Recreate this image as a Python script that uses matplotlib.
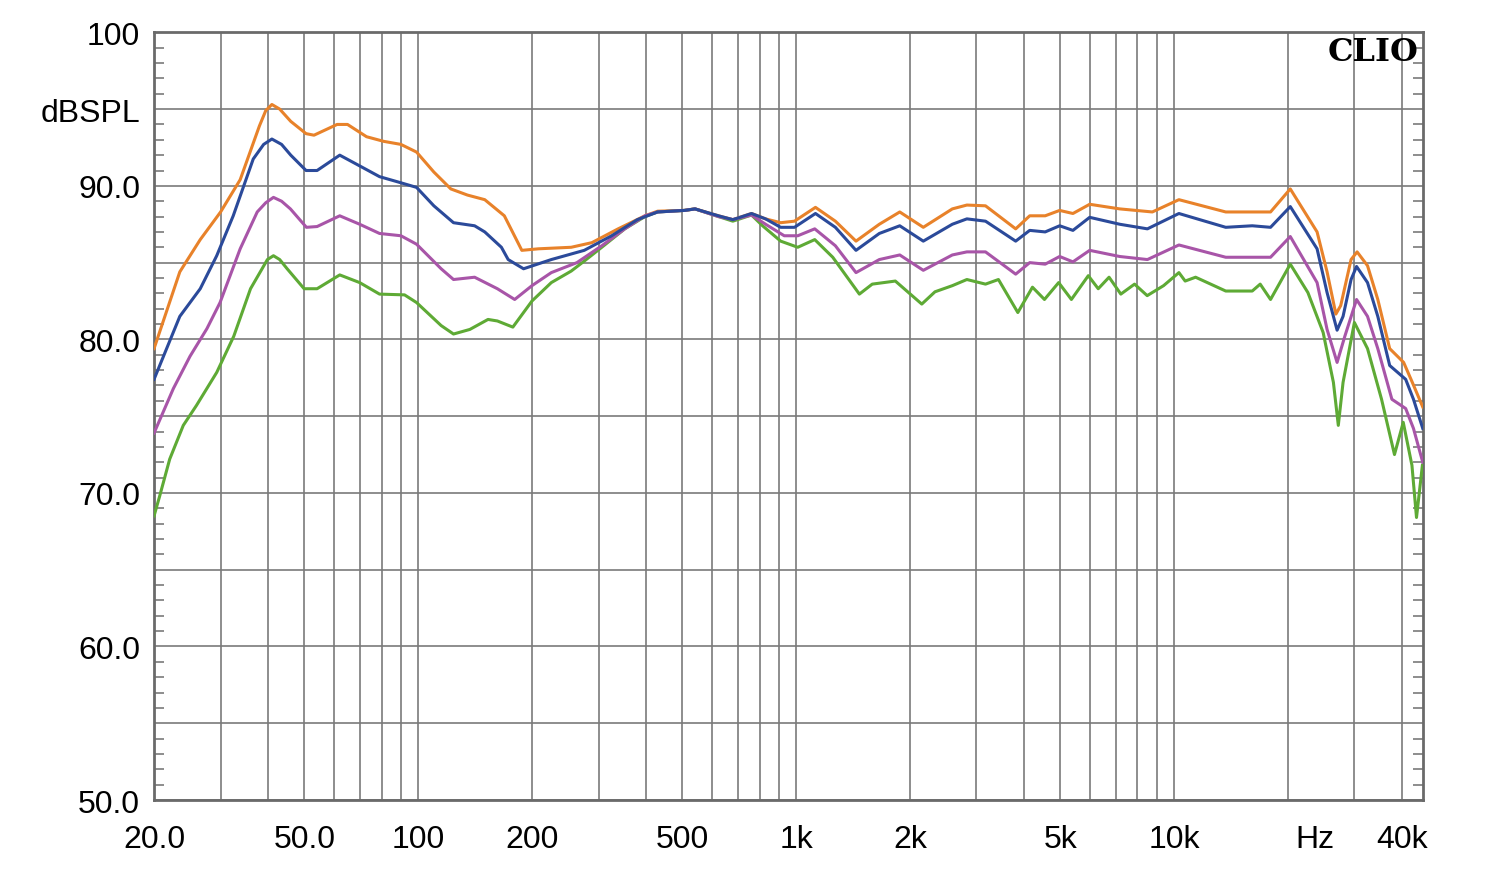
import matplotlib
matplotlib.use("Agg")
import matplotlib.pyplot as plt
import numpy as np

# ---- data ----
orange_f = [20, 23.4, 26.5, 30, 33.8, 38, 39.5, 41, 43, 46, 50.5, 53, 61, 65, 73, 81, 90, 99, 110, 122, 135, 150, 169, 188, 208,
            254, 288, 338, 398, 430, 506, 540, 623, 680, 762, 830, 910, 990, 1125, 1270, 1440, 1660, 1880, 2170, 2590,
            2830, 3170, 3810, 4150, 4560, 4980, 5400, 5980, 7180, 8760, 10300, 13700, 16100, 18000, 20300, 23900,
            25400, 26800, 27600, 29400, 30500, 32500, 34600, 37200, 40500, 42700, 45500]
orange_db = [79.4, 84.4, 86.5, 88.3, 90.4, 93.9, 94.9, 95.3, 95.0, 94.2, 93.4, 93.3, 94.0, 94.0, 93.2, 92.9, 92.7, 92.2, 90.9, 89.8,
             89.4, 89.1, 88.05, 85.8, 85.9, 86.0, 86.3, 87.2, 88.05, 88.35, 88.4, 88.5, 88.05, 87.8, 88.2, 87.85, 87.6,
             87.7, 88.6, 87.7, 86.4, 87.5, 88.3, 87.3, 88.5, 88.75, 88.7, 87.2, 88.05, 88.05, 88.4, 88.2, 88.8, 88.5,
             88.3, 89.1, 88.3, 88.3, 88.3, 89.8, 87.0, 84.4, 81.65, 82.2, 85.2, 85.7, 84.8, 82.6, 79.4, 78.5, 77.2, 75.6]

blue_f = [20, 23.4, 26.5, 29.3, 32.4, 36.6, 39, 41, 43.5, 46, 50.5, 54, 62, 70, 79, 90, 99, 110, 124, 141, 150, 166, 173, 190,
          225, 275, 325, 380, 430, 506, 540, 623, 680, 762, 830, 910, 990, 1125, 1270, 1440, 1660, 1880, 2170, 2590,
          2830, 3170, 3810, 4150, 4560, 4980, 5400, 5980, 7180, 8500, 10300, 13700, 16100, 18000, 20300, 23900,
          25400, 27000, 28000, 29400, 30400, 32500, 34600, 37200, 41000, 43000, 45500]
blue_db = [77.4, 81.5, 83.3, 85.45, 88.05, 91.75, 92.7, 93.05, 92.7, 92.0, 91.0, 91.0, 92.0, 91.3, 90.6, 90.2, 89.9, 88.7, 87.6,
           87.4, 87.0, 86.0, 85.2, 84.6, 85.2, 85.8, 86.75, 87.8, 88.3, 88.4, 88.5, 88.05, 87.8, 88.2, 87.85, 87.3,
           87.3, 88.2, 87.3, 85.8, 86.9, 87.4, 86.4, 87.5, 87.85, 87.7, 86.4, 87.1, 87.0, 87.4, 87.1, 87.95, 87.5,
           87.2, 88.2, 87.3, 87.4, 87.3, 88.65, 85.9, 83.05, 80.6, 81.5, 83.9, 84.75, 83.7, 81.5, 78.3, 77.4, 76.1, 74.2]

purple_f = [20, 22.5, 24.9, 27.6, 29.9, 33.8, 37.5, 39.5, 41.4, 43.5, 45.9, 50.6, 54, 62, 70, 79, 90, 99, 115, 124, 141, 162, 180,
            200, 225, 263, 306, 352, 398, 430, 506, 540, 623, 680, 762, 830, 930, 1010, 1120, 1270, 1440, 1660, 1880,
            2170, 2590, 2830, 3170, 3810, 4150, 4560, 4980, 5400, 5980, 7180, 8500, 10300, 13700, 16100, 18000, 20300,
            23900, 25400, 27000, 28300, 30400, 32500, 34600, 37700, 41000, 43000, 45500]
purple_db = [73.9, 76.8, 78.9, 80.7, 82.4, 85.9, 88.3, 88.9, 89.25, 89.0, 88.5, 87.3, 87.35, 88.05, 87.5, 86.9, 86.75, 86.2, 84.6,
             83.9, 84.05, 83.3, 82.6, 83.5, 84.35, 85.0, 86.1, 87.2, 88.05, 88.3, 88.4, 88.5, 88.0, 87.8, 88.1, 87.5,
             86.75, 86.75, 87.2, 86.1, 84.35, 85.2, 85.5, 84.5, 85.5, 85.7, 85.7, 84.25, 85.0, 84.9, 85.4, 85.05, 85.8,
             85.4, 85.2, 86.15, 85.35, 85.35, 85.35, 86.7, 83.7, 80.65, 78.5, 80.2, 82.6, 81.5, 79.4, 76.1, 75.5, 74.2,
             72.0]

green_f = [20, 20.7, 22, 23.9, 25.9, 29.3, 32.5, 36, 39.9, 41.4, 43, 45, 49.9, 54, 62, 70, 79, 92, 99, 115, 124, 137, 153,
           162, 178, 200, 225, 254, 275, 306, 352, 398, 430, 506, 540, 623, 680, 762, 815, 910, 1010, 1120, 1250, 1470,
           1590, 1830, 2150, 2330, 2590, 2830, 3170, 3430, 3860, 4220, 4540, 4950, 5350, 5930, 6300, 6730, 7230, 7860,
           8490, 9380, 10300, 10700, 11400, 13700, 16100, 16900, 18000, 20300, 22600, 24800, 26400, 27200, 28000,
           30000, 32500, 35400, 38300, 40400, 42600, 43800, 45400]
green_db = [68.5, 69.8, 72.2, 74.4, 75.7, 77.85, 80.2, 83.3, 85.2, 85.45, 85.2, 84.6, 83.3, 83.3, 84.2, 83.7, 82.95, 82.9,
            82.4, 80.9, 80.35, 80.65, 81.3, 81.2, 80.8, 82.5, 83.7, 84.45, 85.1, 86.0, 87.2, 88.0, 88.3, 88.4, 88.5,
            88.0, 87.7, 88.1, 87.4, 86.4, 86.0, 86.5, 85.35, 82.95, 83.6, 83.8, 82.3, 83.1, 83.5, 83.9, 83.6, 83.9,
            81.75, 83.4, 82.6, 83.7, 82.6, 84.15, 83.3, 84.05, 82.95, 83.6, 82.85, 83.5, 84.35, 83.8, 84.05, 83.15,
            83.15, 83.6, 82.6, 84.9, 83.05, 80.45, 77.2, 74.4, 77.2, 81.1, 79.4, 76.1, 72.5, 74.6, 71.8, 68.4, 71.8]

x_label_map = {20: "20.0", 50: "50.0", 100: "100", 200: "200", 500: "500", 1000: "1k",
               2000: "2k", 5000: "5k", 10000: "10k", 40000: "40k"}
hz_pos = 23600
grid_freqs = [20, 30, 40, 50, 60, 70, 80, 90, 100, 200, 300, 400, 500, 600, 700, 800, 900, 1000,
              2000, 3000, 4000, 5000, 6000, 7000, 8000, 9000, 10000, 20000, 30000, 40000]
y_tick_pos = [50, 55, 60, 65, 70, 75, 80, 85, 90, 95, 100]
y_tick_labels = ["50.0", "", "60.0", "", "70.0", "", "80.0", "", "90.0", "dBSPL", "100"]

# ---- figure ----
plt.rcParams['font.family'] = ['Liberation Sans', 'DejaVu Sans']
fig = plt.figure(figsize=(15, 8.7), dpi=100)
ax = fig.add_axes([0.1027, 0.0793, 0.9485 - 0.1027, 0.9617 - 0.0793])

ax.set_xscale('log')
ax.set_xlim(20, 45500)
ax.set_ylim(50, 100)

grid_col = '#7a7a7a'
fs = 23
ax.set_xticks(grid_freqs)
ax.set_xticklabels([x_label_map.get(f, "") for f in grid_freqs], fontsize=fs)
ax.set_xticks([hz_pos], minor=True)
ax.set_xticklabels(["Hz"], minor=True, fontsize=fs)
ax.xaxis.grid(True, which='major', color=grid_col, lw=1.2)
ax.xaxis.grid(False, which='minor')
ax.tick_params(axis='x', which='both', length=0, pad=17)

ax.set_yticks(y_tick_pos)
ax.set_yticklabels(y_tick_labels, fontsize=fs)
ax.set_yticks(np.arange(50, 101, 1), minor=True)
ax.yaxis.grid(True, which='major', color=grid_col, lw=1.2)
ax.tick_params(axis='y', which='major', length=0, pad=10)
ax.tick_params(axis='y', which='minor', direction='in', length=7, width=1.2,
               color=grid_col, left=True, right=True)

for s in ax.spines.values():
    s.set_color('#6a6a6a')
    s.set_linewidth(2)

lw = 2.2
ax.plot(orange_f, orange_db, color='#E8822A', lw=lw, zorder=3)
ax.plot(green_f, green_db, color='#5EAA35', lw=lw, zorder=3)
ax.plot(purple_f, purple_db, color='#A855A8', lw=lw, zorder=3)
ax.plot(blue_f, blue_db, color='#2B4A9A', lw=lw, zorder=4)

ax.text(0.997, 0.995, "CLIO", transform=ax.transAxes, ha='right', va='top',
        fontsize=23, fontweight='bold', family=['DejaVu Serif'], zorder=5)

fig.savefig("out.png", dpi=100, facecolor='white')
